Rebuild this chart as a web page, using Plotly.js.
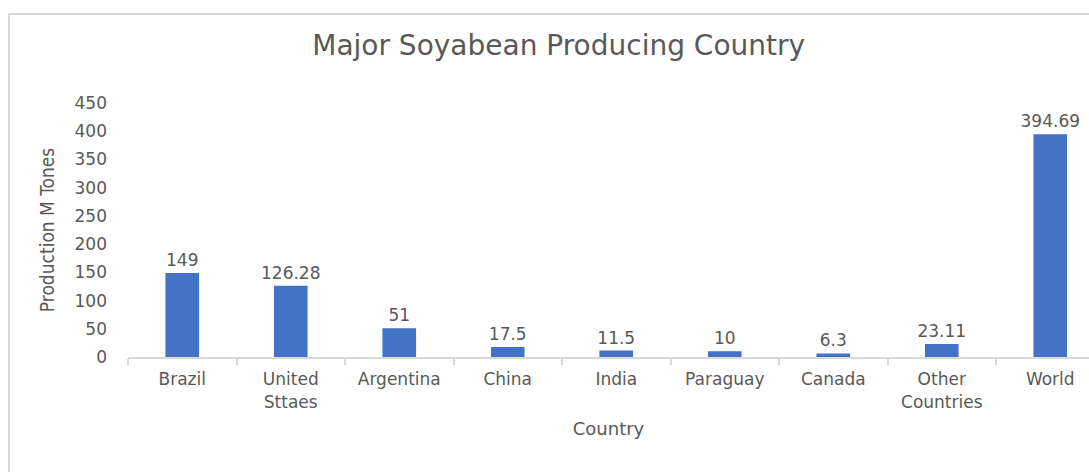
<!DOCTYPE html>
<html>
<head>
<meta charset="utf-8">
<script src="https://cdn.plot.ly/plotly-3.0.1.min.js"></script>
<style>
html,body{margin:0;padding:0;background:#fff;overflow:hidden;}
#frame{position:absolute;left:8px;top:13px;width:1200px;height:600px;border:2px solid #d9d9d9;box-sizing:border-box;}
#chart{position:absolute;left:0;top:0;width:1089px;height:472px;}
</style>
</head>
<body>
<div id="frame"></div>
<div id="chart"></div>
<script>
var countries = ["Brazil", "United<br>Sttaes", "Argentina", "China", "India", "Paraguay", "Canada", "Other<br>Countries", "World"];
var production = [149, 126.28, 51, 17.5, 11.5, 10, 6.3, 23.11, 394.69];
var valueLabels = ["149", "126.28", "51", "17.5", "11.5", "10", "6.3", "23.11", "394.69"];
var yTicks = [0, 50, 100, 150, 200, 250, 300, 350, 400, 450];

var txt = '#595959';
var trace = {
  type: 'bar',
  x: countries,
  y: production,
  text: valueLabels,
  textposition: 'outside',
  constraintext: 'none',
  textfont: {family: 'DejaVu Sans', size: 17, color: txt},
  cliponaxis: false,
  width: 0.31,
  marker: {color: '#4472C4'},
  hoverinfo: 'x+y'
};
var layout = {
  width: 1089, height: 472,
  margin: {l: 128, r: 0, t: 103, b: 115},
  paper_bgcolor: 'rgba(0,0,0,0)',
  plot_bgcolor: 'rgba(0,0,0,0)',
  showlegend: false,
  font: {family: 'DejaVu Sans', color: txt},
  title: {text: 'Major Soyabean Producing Country', font: {family: 'DejaVu Sans', size: 28, color: txt}, x: 0.513, xanchor: 'center', y: 0.905, yanchor: 'middle'},
  xaxis: {
    type: 'category',
    range: [-0.5, 8.357],
    showline: true, linecolor: '#d9d9d9', linewidth: 2,
    ticks: 'outside', tickson: 'boundaries', ticklen: 6, tickcolor: '#d9d9d9', tickwidth: 2,
    tickfont: {family: 'DejaVu Sans', size: 17, color: txt},
    ticklabelstandoff: 6,
    showgrid: false, zeroline: false,
    automargin: false,
    title: {text: 'Country', font: {family: 'DejaVu Sans', size: 18, color: txt}, standoff: 12}
  },
  yaxis: {
    range: [0, 450],
    tickvals: yTicks,
    ticks: '', showline: false, showgrid: false, zeroline: false,
    tickfont: {family: 'DejaVu Sans', size: 17, color: txt},
    ticklabelstandoff: 20,
    automargin: false,
    title: {text: 'Production M Tones', font: {family: 'Liberation Sans Narrow, DejaVu Sans Condensed', size: 19, color: txt}, standoff: 14}
  }
};
Plotly.newPlot('chart', [trace], layout, {displayModeBar: false, staticPlot: true});
</script>
</body>
</html>
